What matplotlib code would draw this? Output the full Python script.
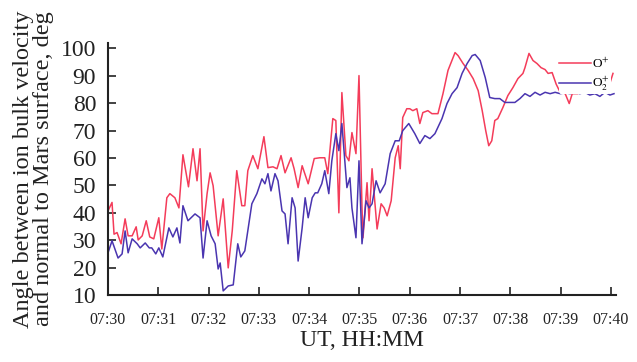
import matplotlib
matplotlib.use("Agg")
import matplotlib.pyplot as plt

# =========================================================
# DATA (minutes after 07:30, angle in deg)
# =========================================================

t_o = [0.00, 0.08, 0.12, 0.18, 0.26, 0.34, 0.40, 0.48, 0.56, 0.60, 0.68, 0.76, 0.83, 0.91,
       1.01, 1.07, 1.17, 1.23, 1.33, 1.41, 1.49, 1.60, 1.69, 1.77, 1.83, 1.89, 1.97, 2.03,
       2.09, 2.19, 2.29, 2.39, 2.47, 2.56, 2.66, 2.72, 2.78, 2.88, 2.98, 3.10, 3.18, 3.28,
       3.36, 3.44, 3.52, 3.64, 3.70, 3.78, 3.86, 3.98, 4.10, 4.21, 4.31, 4.37, 4.47, 4.53,
       4.59, 4.65, 4.73, 4.79, 4.85, 4.93, 4.99, 5.05, 5.07, 5.15, 5.19, 5.25, 5.35, 5.43,
       5.49, 5.55, 5.63, 5.71, 5.77, 5.81, 5.86, 5.94, 6.00, 6.06, 6.14, 6.20, 6.26, 6.36,
       6.44, 6.56, 6.66, 6.76, 6.90, 6.96, 7.06, 7.16, 7.26, 7.36, 7.44, 7.51, 7.57, 7.63,
       7.69, 7.75, 7.85, 7.95, 8.05, 8.15, 8.25, 8.29, 8.37, 8.45, 8.53, 8.61, 8.69, 8.75,
       8.83, 8.91, 8.99, 9.09, 9.17, 9.23, 9.34, 9.48, 9.68, 9.84, 9.92, 9.96, 10.04]
ang_o = [40.7, 43.8, 32.2, 32.8, 28.7, 37.8, 31.6, 31.6, 34.9, 30.1, 31.6, 37.1, 31.2, 30.5,
         38.2, 26.8, 45.5, 47.0, 45.5, 41.8, 61.2, 49.5, 63.4, 51.7, 63.4, 33.4, 47.0, 54.6,
         49.9, 31.6, 45.1, 19.9, 33.4, 55.4, 42.6, 42.6, 55.4, 60.9, 56.1, 67.8, 56.5, 56.8,
         56.1, 60.9, 54.6, 60.1, 56.1, 49.2, 57.2, 50.6, 59.8, 60.1, 60.1, 54.3, 74.4, 73.7,
         40.0, 83.9, 60.9, 59.0, 69.3, 61.6, 90.1, 41.8, 30.9, 51.0, 37.1, 56.1, 34.1, 43.3,
         41.8, 38.9, 44.4, 60.1, 64.5, 56.1, 74.8, 78.0, 78.0, 77.3, 78.0, 72.6, 76.6, 77.3,
         76.2, 76.2, 83.5, 92.0, 98.5, 97.4, 94.5, 92.0, 89.0, 84.6, 77.3, 70.0, 64.5, 66.3,
         73.7, 74.4, 78.4, 82.8, 85.7, 89.0, 90.9, 93.0, 98.2, 95.6, 94.5, 93.0, 92.3, 90.9,
         91.2, 87.0, 84.0, 83.5, 79.9, 83.5, 83.5, 88.0, 89.0, 88.0, 87.4, 86.2, 90.9]

t_o2 = [0.00, 0.08, 0.20, 0.28, 0.34, 0.40, 0.48, 0.58, 0.64, 0.74, 0.82, 0.87, 0.95, 1.01,
        1.09, 1.21, 1.29, 1.37, 1.43, 1.49, 1.59, 1.73, 1.83, 1.89, 1.97, 2.05, 2.13, 2.19,
        2.23, 2.29, 2.39, 2.49, 2.58, 2.64, 2.72, 2.86, 2.96, 3.06, 3.12, 3.18, 3.24, 3.32,
        3.38, 3.46, 3.52, 3.58, 3.66, 3.72, 3.78, 3.86, 3.92, 3.98, 4.06, 4.12, 4.17, 4.25,
        4.31, 4.39, 4.45, 4.53, 4.59, 4.65, 4.75, 4.81, 4.85, 4.93, 4.99, 5.05, 5.13, 5.19,
        5.25, 5.33, 5.41, 5.51, 5.61, 5.71, 5.79, 5.86, 5.98, 6.10, 6.20, 6.30, 6.40, 6.50,
        6.64, 6.74, 6.84, 6.94, 7.04, 7.14, 7.24, 7.30, 7.40, 7.50, 7.59, 7.69, 7.79, 7.89,
        7.99, 8.09, 8.19, 8.29, 8.39, 8.49, 8.59, 8.69, 8.79, 8.89, 8.99, 9.09, 9.19, 9.28,
        9.38, 9.48, 9.58, 9.68, 9.78, 9.88, 9.98, 10.06]
ang_o2 = [25.4, 29.8, 23.5, 25.0, 33.4, 25.4, 30.5, 28.7, 27.2, 29.0, 27.2, 27.2, 25.0, 27.2,
          23.9, 34.5, 31.2, 34.5, 29.0, 42.6, 37.1, 39.6, 38.2, 23.5, 37.1, 31.6, 28.7, 19.5,
          21.7, 11.5, 13.3, 13.7, 28.7, 23.9, 26.1, 43.3, 47.0, 52.4, 50.6, 54.3, 48.0, 54.3,
          51.7, 40.7, 39.6, 28.7, 45.5, 41.8, 22.4, 34.5, 45.5, 38.2, 45.5, 47.3, 47.3, 50.6,
          55.4, 47.0, 59.0, 68.9, 62.7, 72.6, 49.2, 52.8, 41.8, 30.9, 59.0, 28.7, 44.4, 41.8,
          43.3, 51.7, 47.3, 50.6, 61.6, 66.3, 66.3, 70.0, 72.6, 68.9, 65.3, 68.2, 67.1, 68.9,
          74.4, 79.9, 83.5, 85.7, 90.9, 94.5, 97.4, 97.8, 95.6, 89.4, 82.1, 81.7, 81.7, 80.3,
          80.3, 80.3, 81.7, 83.5, 82.5, 84.0, 83.0, 84.0, 83.5, 84.0, 83.5, 83.8, 83.5, 84.0,
          83.5, 84.0, 83.0, 83.5, 82.5, 84.0, 83.0, 83.5]

x_ticks = list(range(11))
x_labels = ["07:30", "07:31", "07:32", "07:33", "07:34", "07:35",
            "07:36", "07:37", "07:38", "07:39", "07:40"]
y_ticks = [10, 20, 30, 40, 50, 60, 70, 80, 90, 100]

# =========================================================
# PLOT
# =========================================================

plt.rcParams["font.family"] = "Liberation Serif"
plt.rcParams["mathtext.fontset"] = "stix"

fig = plt.figure(figsize=(6.37, 3.62), dpi=100)
ax = fig.add_axes([108 / 637, 67 / 362, 508 / 637, 252 / 362])

ax.plot(t_o, ang_o, color="#f43c5a", lw=1.1, label="O$^{+}$")
ax.plot(t_o2, ang_o2, color="#4a35b0", lw=1.1, label="O$_2^{+}$")

ax.set_xlim(0, 10.1)
ax.set_ylim(10, 102)
ax.set_xticks(x_ticks)
ax.set_xticklabels(x_labels, fontsize=11.5)
ax.set_yticks(y_ticks)
ax.tick_params(direction="in", length=6, width=1.2, colors="#222222", labelcolor="#222222")
ax.tick_params(axis="y", labelsize=17, pad=8.5)
ax.tick_params(axis="x", pad=12)

for side in ["top", "right"]:
    ax.spines[side].set_visible(False)
for side in ["left", "bottom"]:
    ax.spines[side].set_linewidth(1.5)
    ax.spines[side].set_color("#222222")

ax.set_xlabel("UT, HH:MM", fontsize=17, color="#222222", labelpad=2)
ax.set_ylabel("Angle between ion bulk velocity\nand normal to Mars surface, deg",
              fontsize=17.5, color="#222222", linespacing=0.95, labelpad=5)

leg = ax.legend(loc="upper left", bbox_to_anchor=(0.887, 0.95), fontsize=9.5,
                frameon=True, facecolor="white", edgecolor="none", framealpha=1,
                handlelength=2.4, handletextpad=0.1, borderpad=0.05, labelspacing=0.3,
                borderaxespad=0)

fig.savefig("out.png", dpi=100)
